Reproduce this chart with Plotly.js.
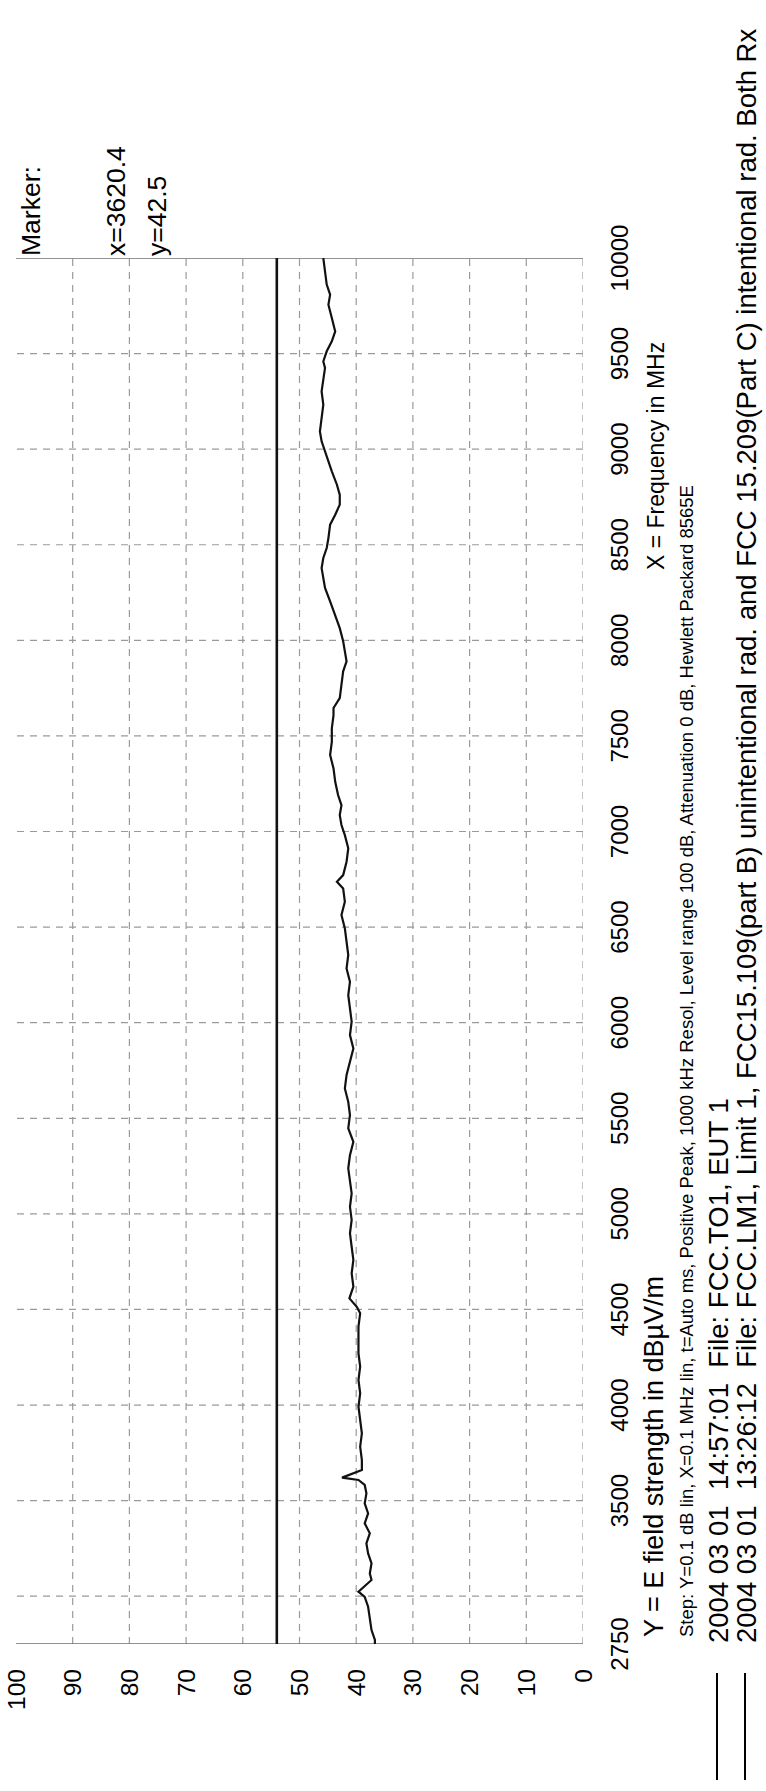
<!DOCTYPE html>
<html>
<head>
<meta charset="utf-8">
<script src="https://cdn.plot.ly/plotly-3.0.1.min.js"></script>
<style>
html,body{margin:0;padding:0;background:#fff;width:766px;height:1791px;overflow:hidden;}
#wrap{position:absolute;left:0;top:0;width:1791px;height:766px;transform-origin:0 0;transform:translate(0px,1791px) rotate(-90deg);}
</style>
</head>
<body>
<div id="wrap"></div>
<script>
// ---- data ----
const freqMHz = [2750, 2771, 2823, 2875, 2945, 2997, 3024, 3085, 3119, 3172, 3224, 3276, 3329, 3381, 3433, 3486, 3538, 3582, 3608, 3620.4, 3660, 3712, 3782, 3852, 3922, 3991, 4061, 4131, 4201, 4270, 4340, 4410, 4480, 4514, 4558, 4619, 4689, 4759, 4828, 4898, 4968, 5037, 5107, 5168, 5238, 5307, 5377, 5447, 5517, 5586, 5656, 5726, 5796, 5865, 5935, 6005, 6075, 6144, 6214, 6284, 6354, 6423, 6493, 6563, 6633, 6702, 6737, 6772, 6842, 6912, 6981, 7034, 7086, 7138, 7191, 7260, 7330, 7400, 7469, 7539, 7609, 7646, 7698, 7768, 7838, 7890, 7942, 7995, 8064, 8134, 8204, 8274, 8326, 8378, 8431, 8483, 8535, 8605, 8657, 8710, 8762, 8814, 8884, 8936, 8989, 9041, 9093, 9163, 9233, 9302, 9372, 9425, 9459, 9512, 9564, 9616, 9686, 9756, 9808, 9861, 9930, 10000];
const levelDb = [36.7, 36.7, 37.3, 37.6, 37.9, 38.5, 39.6, 37.3, 37.6, 37.3, 37.9, 38.2, 37.6, 38.5, 37.9, 38.5, 38.2, 38.5, 39.6, 42.5, 39.0, 39.0, 39.3, 39.0, 39.3, 39.6, 39.3, 39.6, 39.3, 39.6, 39.6, 39.6, 39.3, 39.9, 41.2, 40.5, 40.8, 40.5, 40.8, 41.1, 40.8, 41.1, 40.8, 41.1, 41.4, 41.1, 40.5, 41.4, 41.1, 41.4, 42.0, 41.7, 41.1, 40.5, 41.1, 40.8, 41.1, 41.4, 41.1, 41.7, 41.4, 41.7, 42.0, 42.6, 42.0, 42.3, 43.4, 42.3, 41.7, 41.4, 42.0, 42.6, 42.9, 42.6, 43.2, 43.7, 44.0, 44.6, 44.3, 44.3, 44.0, 44.0, 42.9, 42.6, 42.3, 41.7, 42.0, 42.3, 42.9, 43.7, 44.6, 45.5, 45.8, 46.1, 45.8, 45.2, 44.9, 44.6, 43.7, 42.9, 42.9, 43.4, 44.3, 44.9, 45.5, 46.1, 46.4, 46.1, 45.8, 46.1, 45.8, 45.5, 45.8, 45.2, 44.3, 43.7, 44.3, 44.9, 44.6, 45.2, 45.5, 45.8];
const limitFreq = [2750, 10000];
const limitDbValues = [54, 54];
const freqTicks = [2750, 3000, 3500, 4000, 4500, 5000, 5500, 6000, 6500, 7000, 7500, 8000, 8500, 9000, 9500, 10000];
const freqTickText = ['2750', '', '3500', '4000', '4500', '5000', '5500', '6000', '6500', '7000', '7500', '8000', '8500', '9000', '9500', '10000'];
const levelTicks = [0, 10, 20, 30, 40, 50, 60, 70, 80, 90, 100];
const freqGrid = [3000, 3500, 4000, 4500, 5000, 5500, 6000, 6500, 7000, 7500, 8000, 8500, 9000, 9500];
const levelGrid = [0, 10, 20, 30, 40, 50, 60, 70, 80, 90];
const markerFreq = 3620.4;
const markerLevel = 42.5;
const xTitle = 'X = Frequency in MHz';
const yTitle = 'Y = E field strength in dBµV/m';
const stepText = 'Step: Y=0.1 dB lin, X=0.1 MHz lin, t=Auto ms, Positive Peak, 1000 kHz Resol, Level range 100 dB, Attenuation 0 dB, Hewlett Packard 8565E';
const legendRows = [
  '2004 03 01\u00a0 14:57:01\u00a0 File: FCC.TO1, EUT 1',
  '2004 03 01\u00a0 13:26:12\u00a0 File: FCC.LM1, Limit 1, FCC15.109(part B) unintentional rad. and FCC 15.209(Part C) intentional rad. Both Rx'
];

// ---- layout geometry (landscape canvas, rotated by CSS) ----
const W = 1791, H = 766;
const M = {l: 147, r: 258, t: 16, b: 183};
const PW = W - M.l - M.r, PH = H - M.t - M.b;
const px = X => (X - M.l) / PW;
const py = Y => (H - M.b - Y) / PH;
const FONT = '"Liberation Sans", Arial, sans-serif';
const gridStyle = {color: '#9a9a9a', width: 1.2, dash: '7px,6px'};
const frameStyle = {color: '#6e6e6e', width: 1.6};

const shapes = [];
freqGrid.forEach(f => shapes.push({type: 'line', xref: 'x', yref: 'y', x0: f, x1: f, y0: 0, y1: 100, line: gridStyle, layer: 'below'}));
levelGrid.forEach(v => shapes.push({type: 'line', xref: 'x', yref: 'y', x0: freqTicks[0], x1: freqTicks[freqTicks.length - 1], y0: v, y1: v, line: gridStyle, layer: 'below'}));
[freqTicks[0], freqTicks[freqTicks.length - 1]].forEach(f => shapes.push({type: 'line', xref: 'x', yref: 'y', x0: f, x1: f, y0: 0, y1: 100, line: frameStyle, layer: 'below'}));
// legend line samples
shapes.push({type: 'line', xref: 'paper', yref: 'paper', x0: px(11), x1: px(118), y0: py(717), y1: py(717), line: {color: '#000', width: 2}});
shapes.push({type: 'line', xref: 'paper', yref: 'paper', x0: px(11), x1: px(118), y0: py(745), y1: py(745), line: {color: '#000', width: 2}});

const ann = (text, X, Y, size, anchor) => ({
  text: text, xref: 'paper', yref: 'paper', x: px(X), y: py(Y), xanchor: anchor || 'left', yanchor: 'middle',
  showarrow: false, font: {family: FONT, size: size, color: '#000'}
});
const annotations = [
  ann(yTitle, 152, 654, 27),
  ann(xTitle, 1335, 656, 23, 'center'),
  ann(stepText, 152, 686, 18.5),
  ann(legendRows[0], 146, 718, 27.5),
  ann(legendRows[1], 146, 746, 27.5),
  ann('Marker:', 1533, 31, 26.5),
  ann('x=' + markerFreq.toFixed(1), 1533, 116, 26.5),
  ann('y=' + markerLevel.toFixed(1), 1533, 157, 26.5)
];

const traces = [
  {x: freqMHz, y: levelDb, type: 'scatter', mode: 'lines', line: {color: '#111', width: 2.2}, hoverinfo: 'skip'},
  {x: limitFreq, y: limitDbValues, type: 'scatter', mode: 'lines', line: {color: '#111', width: 2.6}, hoverinfo: 'skip'}
];

const layout = {
  width: W, height: H,
  margin: M,
  paper_bgcolor: '#fff', plot_bgcolor: '#fff',
  showlegend: false,
  font: {family: FONT, color: '#000'},
  xaxis: {range: [2750, 10000], tickmode: 'array', tickvals: freqTicks, ticktext: freqTickText,
          showgrid: false, zeroline: false, showline: false, ticks: '', ticklabelstandoff: 20,
          tickfont: {family: FONT, size: 24, color: '#000'}, fixedrange: true},
  yaxis: {range: [0, 100], tickmode: 'array', tickvals: levelTicks,
          showgrid: false, zeroline: false, showline: false, ticks: '', ticklabelstandoff: 24,
          tickfont: {family: FONT, size: 24.5, color: '#000'}, fixedrange: true},
  shapes: shapes,
  annotations: annotations
};

Plotly.newPlot('wrap', traces, layout, {staticPlot: true, displayModeBar: false});
</script>
</body>
</html>
